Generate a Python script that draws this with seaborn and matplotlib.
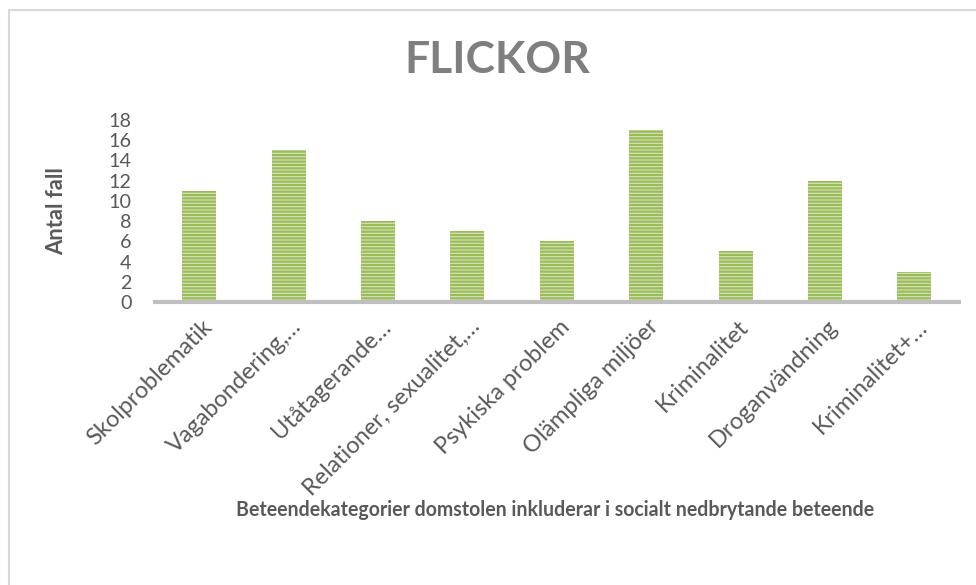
import matplotlib
matplotlib.use("Agg")
import matplotlib.pyplot as plt
import matplotlib.transforms as mtrans
import seaborn as sns
import pandas as pd
from matplotlib.lines import Line2D

categories = ["Skolproblematik", "Vagabondering,…", "Utåtagerande…",
              "Relationer, sexualitet,…", "Psykiska problem", "Olämpliga miljöer",
              "Kriminalitet", "Droganvändning", "Kriminalitet+…"]
values = [11, 15, 8, 7, 6, 17, 5, 12, 3]
yticks = [0, 2, 4, 6, 8, 10, 12, 14, 16, 18]
xlabel = "Beteendekategorier domstolen inkluderar i socialt nedbrytande beteende"
ylabel = "Antal fall"
title = "FLICKOR"

sns.set_theme(style="white")
FAM = ['Lato', 'DejaVu Sans']
plt.rcParams['font.family'] = FAM
plt.rcParams['hatch.linewidth'] = 1.6

df = pd.DataFrame({"cat": categories, "val": values})

W, H = 976, 585
fig = plt.figure(figsize=(W/100, H/100), dpi=100)
renderer = fig.canvas.get_renderer()


def fit_size(s, target_px, weight="normal"):
    t = fig.text(0, 0, s, fontsize=10, fontweight=weight)
    w = t.get_window_extent(renderer).width
    t.remove()
    return 10 * target_px / w


tick_fs = fit_size("Olämpliga miljöer", 180)
ytick_fs = fit_size("18", 23)
title_fs = fit_size(title, 185, "bold")
ylab_fs = fit_size(ylabel, 88, "bold")
xlab_fs = fit_size(xlabel, 640, "bold")

ax = fig.add_axes([154.5/W, 1-302/H, (959-154.5)/W, 182/H])

sns.barplot(data=df, x="cat", y="val", ax=ax, color="#D7E4BD", saturation=1,
            width=0.38, hatch="-----", edgecolor="#9BBB59", linewidth=0)

ax.set_ylim(0, 18)
ax.set_xlim(-0.5, len(categories) - 0.5)
ax.set_yticks(yticks)
ax.set_yticklabels([str(t) for t in yticks], fontsize=ytick_fs, color="#595959")
ax.tick_params(axis="y", length=0, pad=16.5)
ax.tick_params(axis="x", length=0, pad=0)
ax.set_xticks(range(len(categories)))
ax.set_xticklabels(categories, rotation=45, ha="right", va="baseline", rotation_mode="anchor",
                   fontsize=tick_fs, color="#595959")
off = mtrans.ScaledTranslation(14/100, -26/100, fig.dpi_scale_trans)
for lbl in ax.get_xticklabels():
    lbl.set_transform(lbl.get_transform() + off)
for s in ["top", "right", "left"]:
    ax.spines[s].set_visible(False)
ax.spines["bottom"].set_color("#BFBFBF")
ax.spines["bottom"].set_linewidth(3)
ax.set_xlabel("")
ax.set_ylabel("")

fig.text(57/W, 1-211/H, ylabel, rotation=90, ha="center", va="center",
         fontsize=ylab_fs, fontweight="bold", color="#595959")
fig.text(555/W, 1-510/H, xlabel, ha="center", va="center",
         fontsize=xlab_fs, fontweight="bold", color="#595959")
fig.text(497/W, 1-60/H, title, ha="center", va="center",
         fontsize=title_fs, fontweight="bold", color="#7F7F7F")

fig.add_artist(Line2D([8.5/W, 8.5/W], [0, 1-9.5/H], transform=fig.transFigure,
                      color="#D9D9D9", linewidth=1.5))
fig.add_artist(Line2D([8.5/W, 1], [1-9.5/H, 1-9.5/H], transform=fig.transFigure,
                      color="#D9D9D9", linewidth=1.5))

fig.savefig("out.png", dpi=100)
